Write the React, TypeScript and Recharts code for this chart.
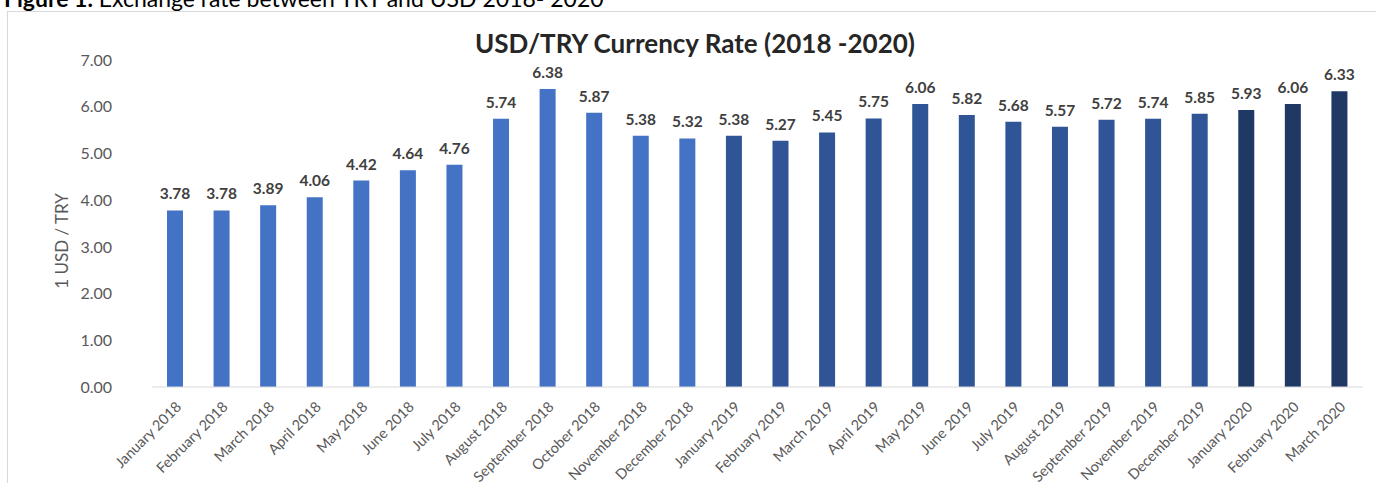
import { BarChart, Bar, XAxis, YAxis, Cell, LabelList } from 'recharts'

const months = [
  'January 2018', 'February 2018', 'March 2018', 'April 2018', 'May 2018', 'June 2018',
  'July 2018', 'August 2018', 'September 2018', 'October 2018', 'November 2018', 'December 2018',
  'January 2019', 'February 2019', 'March 2019', 'April 2019', 'May 2019', 'June 2019',
  'July 2019', 'August 2019', 'September 2019', 'November 2019', 'December 2019',
  'January 2020', 'February 2020', 'March 2020',
]

const rates = [
  3.78, 3.78, 3.89, 4.06, 4.42, 4.64, 4.76, 5.74, 6.38, 5.87, 5.38, 5.32,
  5.38, 5.27, 5.45, 5.75, 6.06, 5.82, 5.68, 5.57, 5.72, 5.74, 5.85,
  5.93, 6.06, 6.33,
]

const yTicks = [0, 1, 2, 3, 4, 5, 6, 7]

const yearColors: Record<string, string> = {
  '2018': '#4472C4',
  '2019': '#2F5597',
  '2020': '#203864',
}

const data = months.map((m, i) => ({ month: m, rate: rates[i], year: m.slice(-4) }))

const font = 'Lato, "Open Sans", sans-serif'

function MonthTick({ x, y, payload }: any) {
  return (
    <text
      x={x + 4}
      y={y + 4}
      dy={10}
      textAnchor="end"
      transform={`rotate(-45, ${x + 4}, ${y + 10})`}
      fontSize={14.5}
      fill="#595959"
      fontFamily={font}
    >
      {payload.value}
    </text>
  )
}

export default function App() {
  return (
    <div style={{ position: 'absolute', left: 0, top: 0, width: 1376, height: 483, overflow: 'hidden', background: '#fff' }}>
      <div
        style={{ position: 'absolute', left: 4, top: -16, fontFamily: font, fontSize: 23, lineHeight: '28px', color: '#000', whiteSpace: 'nowrap' }}
      >
        <b>Figure 1.</b> Exchange rate between TRY and USD 2018- 2020
      </div>
      <div
        style={{
          position: 'absolute', left: 7, top: 11, width: 1400, height: 480,
          borderLeft: '1px solid #d9d9d9', borderTop: '1px solid #d9d9d9',
        }}
      />
      <div
        style={{
          position: 'absolute', left: 695, top: 27, transform: 'translateX(-50%)', fontFamily: font,
          fontSize: 26, lineHeight: '32px', fontWeight: 700, color: '#262626', whiteSpace: 'nowrap',
        }}
      >
        USD/TRY Currency Rate (2018 -2020)
      </div>
      <div
        style={{
          position: 'absolute', left: 61, top: 241, transform: 'translate(-50%, -50%) rotate(-90deg)',
          fontFamily: font, fontSize: 17, color: '#595959', whiteSpace: 'nowrap',
        }}
      >
        1 USD / TRY
      </div>
      <div style={{ position: 'absolute', left: 0, top: 0 }}>
        <BarChart
          width={1376}
          height={483}
          data={data}
          margin={{ top: 60, right: 13, bottom: 0, left: 52 }}
        >
          <XAxis
            dataKey="month"
            interval={0}
            tickLine={false}
            axisLine={{ stroke: '#d9d9d9' }}
            tick={<MonthTick />}
            height={96}
          />
          <YAxis
            domain={[0, 7]}
            ticks={yTicks}
            width={100}
            tickLine={false}
            axisLine={false}
            tickMargin={34}
            tickFormatter={(v: number) => v.toFixed(2)}
            tick={{ fontSize: 16, fill: '#595959', fontFamily: font }}
          />
          <Bar dataKey="rate" barSize={16} isAnimationActive={false}>
            {data.map((d) => (
              <Cell key={d.month} fill={yearColors[d.year]} />
            ))}
            <LabelList
              dataKey="rate"
              position="top"
              offset={11}
              formatter={(v: any) => Number(v).toFixed(2)}
              style={{ fontSize: 15.5, fontWeight: 700, fill: '#404040', fontFamily: font }}
            />
          </Bar>
        </BarChart>
      </div>
    </div>
  )
}
